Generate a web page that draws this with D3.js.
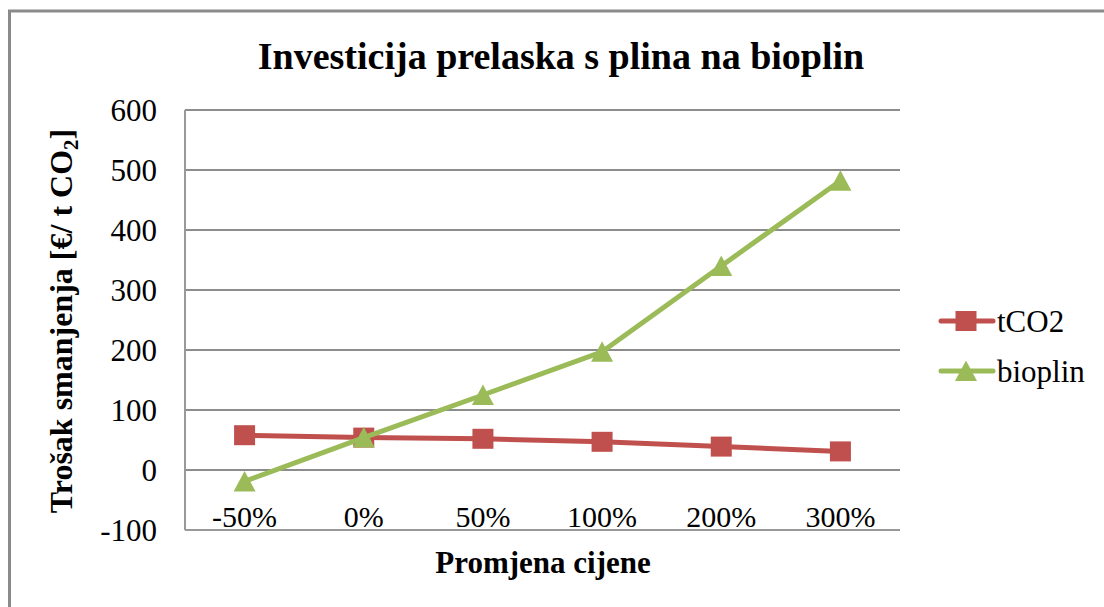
<!DOCTYPE html>
<html>
<head>
<meta charset="utf-8">
<script src="https://cdn.jsdelivr.net/npm/d3@7"></script>
<style>
  html, body { margin: 0; padding: 0; background: #fff; }
</style>
</head>
<body>
<svg id="chart" width="1104" height="607"></svg>
<script>
// Price change scenarios (x-axis categories)
const categories = ["-50%", "0%", "50%", "100%", "200%", "300%"];
// Abatement cost per scenario [€/t CO2]
const tco2Values = [58, 54, 52, 47, 39, 31];
const bioplinValues = [-19, 54, 125, 197, 340, 482];
const yTicks = [-100, 0, 100, 200, 300, 400, 500, 600];
const seriesNames = ["tCO2", "bioplin"];

const FONT = "'Liberation Serif'";

const svg = d3.select("#chart");
const plot = { left: 185, right: 900, top: 110, bottom: 530 };

function label(parent) {
  return parent.append("text").style("font-family", FONT).attr("fill", "#000");
}

// Outer chart frame (continues past the right and bottom edges)
svg.append("rect")
  .attr("x", 9.5).attr("y", 11)
  .attr("width", 1200).attr("height", 700)
  .attr("fill", "#fff")
  .attr("stroke", "#8a8a8a").attr("stroke-width", 3);

const x = d3.scaleBand().domain(categories).range([plot.left, plot.right]);
const y = d3.scaleLinear().domain([-100, 600]).range([plot.bottom, plot.top]);

// Horizontal gridlines
svg.append("g")
  .selectAll("line")
  .data(yTicks.filter(t => t > -100))
  .join("line")
  .attr("x1", plot.left).attr("x2", plot.right)
  .attr("y1", d => y(d)).attr("y2", d => y(d))
  .attr("stroke", "#8c8c8c").attr("stroke-width", 2);

// Axis lines
svg.append("line")
  .attr("x1", plot.left).attr("x2", plot.left)
  .attr("y1", plot.top).attr("y2", plot.bottom)
  .attr("stroke", "#999").attr("stroke-width", 2);
svg.append("line")
  .attr("x1", plot.left).attr("x2", plot.right)
  .attr("y1", plot.bottom).attr("y2", plot.bottom)
  .attr("stroke", "#999").attr("stroke-width", 2);

// Y tick labels
const yLab = svg.append("g");
yTicks.forEach(t => {
  label(yLab)
    .attr("x", 157)
    .attr("y", y(t) + 10.5)
    .attr("text-anchor", "end")
    .attr("font-size", 31)
    .text(t);
});

// X tick labels
const xLab = svg.append("g");
categories.forEach(c => {
  label(xLab)
    .attr("x", x(c) + x.bandwidth() / 2)
    .attr("y", 527)
    .attr("text-anchor", "middle")
    .attr("font-size", 30)
    .text(c);
});

// Title
label(svg)
  .attr("x", 561).attr("y", 69)
  .attr("text-anchor", "middle")
  .attr("font-size", 38).attr("font-weight", "bold")
  .text("Investicija prelaska s plina na bioplin");

// Axis titles
label(svg)
  .attr("x", 543).attr("y", 573)
  .attr("text-anchor", "middle")
  .attr("font-size", 31).attr("font-weight", "bold")
  .text("Promjena cijene");

const yTitle = label(svg)
  .attr("transform", "translate(72,321) rotate(-90)")
  .attr("text-anchor", "middle")
  .attr("font-size", 32).attr("font-weight", "bold");
yTitle.append("tspan").text("Trošak smanjenja [€/ t CO");
yTitle.append("tspan").attr("font-size", 21).attr("dy", 6).text("2");
yTitle.append("tspan").attr("dy", -6).text("]");

// Series
const cx = d => x(d) + x.bandwidth() / 2;
const series = [
  { name: seriesNames[0], values: tco2Values, color: "#C0504D", marker: "square" },
  { name: seriesNames[1], values: bioplinValues, color: "#9BBB59", marker: "triangle" }
];

const line = d3.line().x(d => cx(d.cat)).y(d => y(d.v));
const triPath = "M0,-10.5 L11,10 L-11,10 Z";

function drawMarker(g, type, color) {
  if (type === "square") {
    g.append("rect").attr("x", -10.5).attr("y", -10).attr("width", 21).attr("height", 20)
      .attr("fill", color);
  } else {
    g.append("path").attr("d", triPath).attr("fill", color);
  }
}

series.forEach(s => {
  const pts = s.values.map((v, i) => ({ cat: categories[i], v }));
  svg.append("path")
    .datum(pts)
    .attr("d", line)
    .attr("fill", "none")
    .attr("stroke", s.color)
    .attr("stroke-width", 5)
    .attr("stroke-linejoin", "round");
  pts.forEach(p => {
    const g = svg.append("g").attr("transform", `translate(${cx(p.cat)},${y(p.v)})`);
    drawMarker(g, s.marker, s.color);
  });
});

// Legend
series.forEach((s, i) => {
  const ly = 321 + i * 50;
  svg.append("line")
    .attr("x1", 941).attr("x2", 993)
    .attr("y1", ly).attr("y2", ly)
    .attr("stroke", s.color).attr("stroke-width", 5).attr("stroke-linecap", "round");
  const g = svg.append("g").attr("transform", `translate(966,${ly})`);
  drawMarker(g, s.marker, s.color);
  label(svg)
    .attr("x", 997).attr("y", ly + 11)
    .attr("font-size", 31)
    .text(s.name);
});
</script>
</body>
</html>
